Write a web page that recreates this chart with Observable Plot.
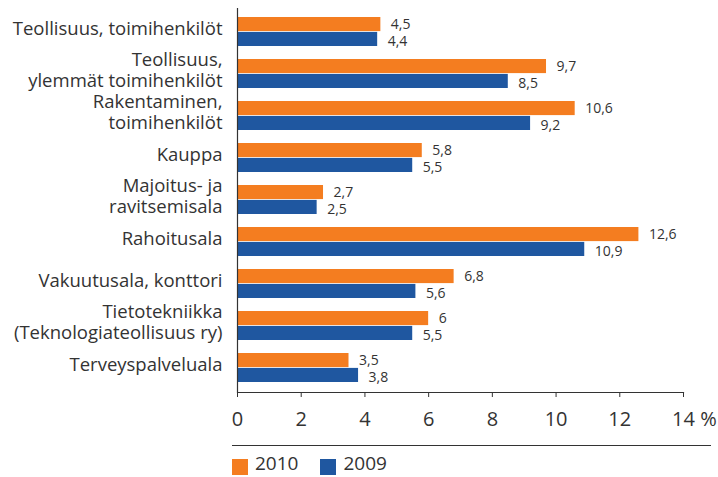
<!DOCTYPE html>
<html>
<head>
<meta charset="utf-8">
<script src="https://cdn.jsdelivr.net/npm/d3@7"></script>
<script src="https://cdn.jsdelivr.net/npm/@observablehq/plot@0.6"></script>
<style>
  html, body { margin: 0; padding: 0; background: #fff; }
  #wrap { position: relative; width: 718px; height: 477px; font-family: "Open Sans", sans-serif; color: #333; }
  #sep { position: absolute; left: 232px; top: 445px; width: 479px; border-top: 1px solid #333; }
  #legend { position: absolute; left: 232px; top: 457px; display: flex; align-items: center; font-size: 19px; line-height: 19px; }
  .sw { width: 16px; height: 16px; display: inline-block; margin-right: 7px; }
  .lab { position: relative; top: -3px; }
  .item { display: flex; align-items: center; margin-right: 22px; }
</style>
</head>
<body>
<div id="wrap">
  <div id="chart"></div>
  <div id="sep"></div>
  <div id="legend"></div>
</div>
<script>
const categories = [
  "Teollisuus, toimihenkilöt",
  "Teollisuus,\nylemmät toimihenkilöt",
  "Rakentaminen,\ntoimihenkilöt",
  "Kauppa",
  "Majoitus- ja\nravitsemisala",
  "Rahoitusala",
  "Vakuutusala, konttori",
  "Tietotekniikka\n(Teknologiateollisuus ry)",
  "Terveyspalveluala"
];
const values2010 = [4.5, 9.7, 10.6, 5.8, 2.7, 12.6, 6.8, 6, 3.5];
const values2009 = [4.4, 8.5, 9.2, 5.5, 2.5, 10.9, 5.6, 5.5, 3.8];
const years = ["2010", "2009"];
const colors = ["#F47D20", "#1F57A0"];
const xTicks = [0, 2, 4, 6, 8, 10, 12, 14];

const d2010 = categories.map((c, i) => ({cat: c, value: values2010[i]}));
const d2009 = categories.map((c, i) => ({cat: c, value: values2009[i]}));

const fmt = v => String(v).replace(".", ",");

const W = 718, H = 438, mT = 8, mB = 46, mL = 237, mR = 35;
const padI = 0.3, padO = 0.16;
const step = (H - mT - mB) / (categories.length - padI + 2 * padO);
const half = step * (1 - padI) / 2;

const chart = Plot.plot({
  width: W,
  height: H,
  marginTop: mT,
  marginBottom: mB,
  marginLeft: mL,
  marginRight: mR,
  style: { fontFamily: "Open Sans, sans-serif", color: "#333", background: "#fff" },
  x: { domain: [0, 14], ticks: xTicks },
  y: { domain: categories, paddingInner: padI, paddingOuter: padO },
  marks: [
    Plot.barX(d2010, { x: "value", y: "cat", fill: colors[0], insetTop: 0, insetBottom: half }),
    Plot.barX(d2009, { x: "value", y: "cat", fill: colors[1], insetTop: half, insetBottom: 0 }),
    Plot.text(d2010, { x: "value", y: "cat", text: d => fmt(d.value), textAnchor: "start", dx: 10, dy: -half / 2, fontSize: 14, fill: "#333" }),
    Plot.text(d2009, { x: "value", y: "cat", text: d => fmt(d.value), textAnchor: "start", dx: 10, dy: half / 2 + 2, fontSize: 14, fill: "#333" }),
    Plot.ruleX([0], { stroke: "#333", strokeWidth: 1.2 }),
    Plot.frame({ anchor: "bottom", stroke: "#333", strokeWidth: 1.2 }),
    Plot.axisX({ ticks: xTicks, tickSize: 5, tickPadding: 14, fontSize: 20, label: null, tickFormat: d => String(d), stroke: "#333" }),
    Plot.text(["%"], { x: () => 14, frameAnchor: "bottom", dy: 33, dx: 25, fontSize: 20, fill: "#333", text: d => d }),
    Plot.axisY({ tickSize: 0, tickPadding: 15, fontSize: 18.5, lineHeight: 1.15, label: null, dy: -4, fill: "#333" })
  ]
});
document.getElementById("chart").appendChild(chart);

const legend = document.getElementById("legend");
years.forEach((y, i) => {
  const it = document.createElement("div");
  it.className = "item";
  it.innerHTML = `<span class="sw" style="background:${colors[i]}"></span><span class="lab">${y}</span>`;
  legend.appendChild(it);
});
</script>
</body>
</html>
